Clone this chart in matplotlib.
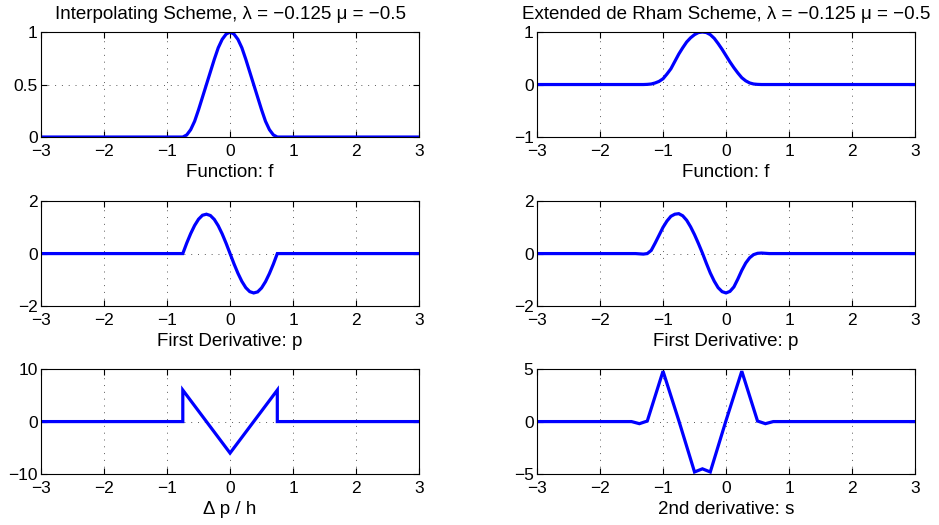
import matplotlib
matplotlib.use('Agg')
import matplotlib.pyplot as plt

plt.rcParams['font.family'] = ['Liberation Sans', 'DejaVu Sans']

# --- interpolating scheme (left column) ---
x_interp = [-3, -0.75, -0.6875, -0.625, -0.5625, -0.5, -0.4375, -0.375, -0.3125, -0.25,
            -0.1875, -0.125, -0.0625, 0, 0.0625, 0.125, 0.1875, 0.25, 0.3125, 0.375,
            0.4375, 0.5, 0.5625, 0.625, 0.6875, 0.75, 3]
f_interp = [0, 0, 0.02, 0.07, 0.15, 0.26, 0.38, 0.50, 0.62, 0.74, 0.85, 0.93, 0.98, 1.0,
            0.98, 0.93, 0.85, 0.74, 0.62, 0.50, 0.38, 0.26, 0.15, 0.07, 0.02, 0, 0]
p_interp = [0, 0, 0.40, 0.76, 1.07, 1.31, 1.46, 1.50, 1.45, 1.30, 1.06, 0.75, 0.39, 0,
            -0.39, -0.75, -1.06, -1.30, -1.45, -1.50, -1.46, -1.31, -1.07, -0.76, -0.40, 0, 0]
x_dp = [-3, -0.75, -0.75, 0, 0.75, 0.75, 3]
dp_interp = [0, 0, 6, -6, 6, 0, 0]

# --- extended de Rham scheme (right column) ---
x_rham = [-3, -1.5, -1.4375, -1.375, -1.3125, -1.25, -1.1875, -1.125, -1.0625, -1.0,
          -0.9375, -0.875, -0.8125, -0.75, -0.6875, -0.625, -0.5625, -0.5, -0.4375,
          -0.375, -0.3125, -0.25, -0.1875, -0.125, -0.0625, 0, 0.0625, 0.125, 0.1875,
          0.25, 0.3125, 0.375, 0.4375, 0.5, 0.5625, 0.625, 0.6875, 0.75, 3]
f_rham = [0, 0, 0, 0, 0, 0.003, 0.01, 0.03, 0.06, 0.11,
          0.2, 0.3, 0.44, 0.58, 0.7, 0.81, 0.89, 0.95, 0.99,
          1.0, 0.99, 0.95, 0.88, 0.78, 0.67, 0.55, 0.43, 0.32, 0.22,
          0.13, 0.07, 0.03, 0.01, 0.003, 0, 0, 0, 0, 0]
p_rham = [0, 0, 0, -0.01, -0.02, 0.0, 0.12, 0.4, 0.7, 1.0,
          1.24, 1.42, 1.5, 1.52, 1.44, 1.27, 1.02, 0.72, 0.38,
          0.02, -0.37, -0.74, -1.05, -1.3, -1.45, -1.5, -1.44, -1.27, -0.97,
          -0.64, -0.36, -0.16, -0.04, 0.01, 0.02, 0.01, 0, 0, 0]
x_s = [-3, -1.5, -1.375, -1.25, -1.0, -0.75, -0.5, -0.375, -0.25, 0, 0.25, 0.5, 0.625, 0.75, 3]
s_rham = [0, 0, -0.2, 0.05, 4.8, 0.1, -4.8, -4.5, -4.8, 0.1, 4.8, 0.05, -0.2, 0, 0]

title_l = 'Interpolating Scheme, λ = −0.125 μ = −0.5'
title_r = 'Extended de Rham Scheme, λ = −0.125 μ = −0.5'

fig = plt.figure(figsize=(9.39, 5.25), dpi=100)

lefts = [0.0437, 0.5719]
bottoms = [0.739, 0.417, 0.097]
w, h = 0.4026, 0.2

panels = [
    (0, 0, x_interp, f_interp, (0, 1), [0, 0.5, 1], ['0', '0.5', '1'], 'Function: f', title_l),
    (0, 1, x_interp, p_interp, (-2, 2), [-2, 0, 2], None, 'First Derivative: p', None),
    (0, 2, x_dp, dp_interp, (-10, 10), [-10, 0, 10], None, 'Δ p / h', None),
    (1, 0, x_rham, f_rham, (-1, 1), [-1, 0, 1], None, 'Function: f', title_r),
    (1, 1, x_rham, p_rham, (-2, 2), [-2, 0, 2], None, 'First Derivative: p', None),
    (1, 2, x_s, s_rham, (-5, 5), [-5, 0, 5], None, '2nd derivative: s', None),
]

for col, row, xs, ys, ylim, yt, ytl, xl, tt in panels:
    ax = fig.add_axes([lefts[col], bottoms[row], w, h])
    ax.plot(xs, ys, color=(0, 0, 1), linewidth=2.3, solid_joinstyle='miter')
    ax.set_xlim(-3, 3)
    ax.set_ylim(*ylim)
    ax.set_xticks([-3, -2, -1, 0, 1, 2, 3])
    ax.set_yticks(yt)
    if ytl is not None:
        ax.set_yticklabels(ytl)
    ax.grid(True, color='0.35', linewidth=0.7, linestyle=(0, (1, 6)))
    ax.tick_params(direction='in', top=True, right=True, length=4, width=0.8,
                   labelsize=12.5)
    ax.tick_params(axis='x', pad=5)
    ax.tick_params(axis='y', pad=2.5)
    for sp in ax.spines.values():
        sp.set_linewidth(0.8)
    ax.set_xlabel(xl, fontsize=13.5, labelpad=3.5)
    if tt:
        ax.set_title(tt, fontsize=13.5, pad=9.5)

fig.savefig('out.png', dpi=100)
